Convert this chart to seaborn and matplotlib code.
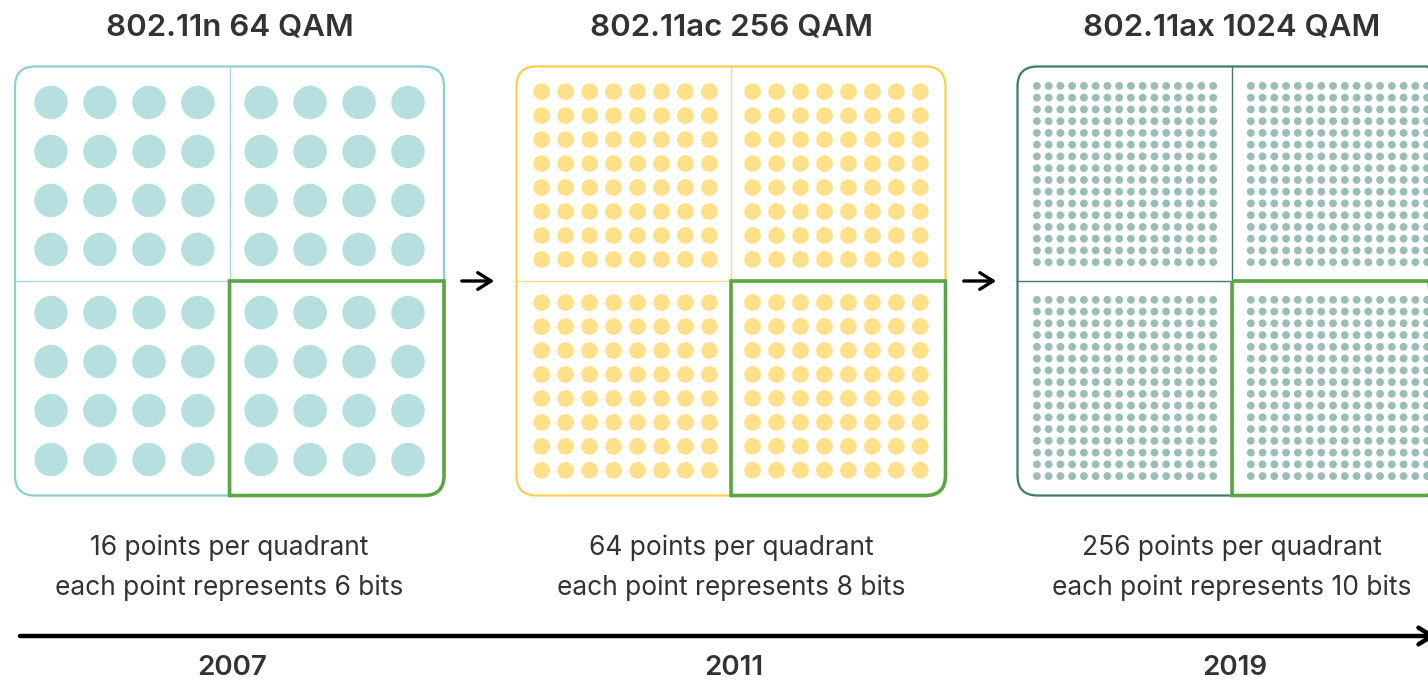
import numpy as np
import pandas as pd
import matplotlib.pyplot as plt
import seaborn as sns
from matplotlib.patches import FancyBboxPatch, PathPatch
from matplotlib.path import Path

# data
titles = ["802.11n 64 QAM", "802.11ac 256 QAM", "802.11ax 1024 QAM"]
qam_orders = [64, 256, 1024]
bits_per_point = [6, 8, 10]
years = ["2007", "2011", "2019"]

# styles per panel
dot_colors = ["#B6DFDF", "#FDE08A", "#9ABEB5"]
border_colors = ["#8DCFCF", "#F8D04E", "#3E7A6D"]
divider_colors = ["#A6D8D8", "#F9DA86", "#3E7A6D"]
center_gaps = [0.29, 0.8, 2.2]      # extra spacing around the I/Q axes (QAM units)
half_spans = [8.76, 17.9, 36.5]     # half width of the panel box (QAM units)
dot_sizes = [580, 145, 32]
centers_px = [229.5, 731, 1232]
highlight = "#5AA546"
text_color = "#333333"

sns.set_theme(style="white")
plt.rcParams["font.family"] = ["Inter", "DejaVu Sans"]

W, H = 1428, 685
fig = plt.figure(figsize=(W / 100, H / 100), dpi=100)

# background axes in pixel coordinates for text, arrows, timeline
bg = fig.add_axes([0, 0, 1, 1])
bg.set_xlim(0, W)
bg.set_ylim(H, 0)
bg.axis("off")

box_px = 429
cy_px = 281
for i, M in enumerate(qam_orders):
    n = int(np.sqrt(M))
    levels = np.arange(-(n - 1), n, 2).astype(float)
    levels = levels + np.sign(levels) * center_gaps[i]
    I, Q = np.meshgrid(levels, levels)
    df = pd.DataFrame({"I": I.ravel(), "Q": Q.ravel()})

    cx = centers_px[i]
    rect = [(cx - box_px / 2) / W, (H - cy_px - box_px / 2) / H, box_px / W, box_px / H]
    ax = fig.add_axes(rect)
    lim = half_spans[i]
    sns.scatterplot(data=df, x="I", y="Q", ax=ax, s=dot_sizes[i],
                    color=dot_colors[i], edgecolor="none", linewidth=0, zorder=2)
    ax.set_xlim(-lim, lim)
    ax.set_ylim(-lim, lim)
    ax.axis("off")

    r = 20 * lim / (box_px / 2)
    box = FancyBboxPatch((-lim, -lim), 2 * lim, 2 * lim,
                         boxstyle=f"round,pad=0,rounding_size={r}",
                         fill=False, edgecolor=border_colors[i], linewidth=1.6,
                         clip_on=False, zorder=3)
    ax.add_patch(box)
    ax.plot([0, 0], [-lim, lim], color=divider_colors[i], lw=1.0, zorder=1)
    ax.plot([-lim, lim], [0, 0], color=divider_colors[i], lw=1.0, zorder=1)

    # highlighted quadrant (bottom-right), rounded outer corner
    verts = [(0, 0), (lim, 0), (lim, -lim + r), (lim, -lim), (lim - r, -lim), (0, -lim), (0, 0)]
    codes = [Path.MOVETO, Path.LINETO, Path.LINETO, Path.CURVE3, Path.CURVE3, Path.LINETO, Path.CLOSEPOLY]
    ax.add_patch(PathPatch(Path(verts, codes), fill=False, edgecolor=highlight,
                           linewidth=2.6, clip_on=False, zorder=4))

    bg.text(cx, 27, titles[i], ha="center", va="center", fontsize=22.5,
            fontweight="semibold", color=text_color)
    bg.text(cx, 548, f"{M // 4} points per quadrant", ha="center", va="center",
            fontsize=19, color=text_color)
    bg.text(cx, 588, f"each point represents {bits_per_point[i]} bits", ha="center",
            va="center", fontsize=19, color=text_color)
    bg.text(cx + 3, 668, years[i], ha="center", va="center", fontsize=20,
            fontweight="semibold", color=text_color)

# arrows between panels
for x0 in [459, 961]:
    bg.annotate("", xy=(x0 + 38, cy_px), xytext=(x0, cy_px),
                arrowprops=dict(arrowstyle="->,head_length=0.8,head_width=0.5",
                                color="black", lw=2.4))

# timeline
bg.annotate("", xy=(1436, 636), xytext=(20, 636), annotation_clip=False,
            arrowprops=dict(arrowstyle="->,head_length=0.8,head_width=0.5",
                            color="black", lw=3.2, shrinkA=0, shrinkB=0))

fig.savefig("out.png", dpi=100)
